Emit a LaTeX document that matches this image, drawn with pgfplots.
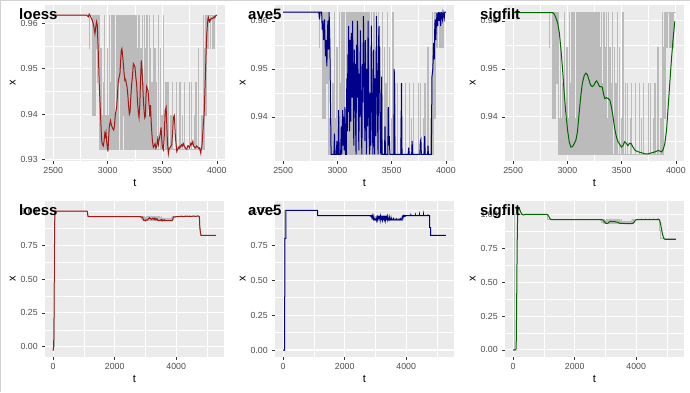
\documentclass[border=0pt]{standalone}
\usepackage{pgfplots}
\pgfplotsset{compat=1.18}
\usepackage{pgfplotstable}
\usepackage{fontspec}
\setmainfont{Liberation Sans}
\definecolor{ggbg}{HTML}{EBEBEB}
\definecolor{ggtick}{HTML}{333333}
\definecolor{ggtext}{HTML}{4D4D4D}
\definecolor{rawgray}{HTML}{BBBBBB}
\definecolor{cred}{HTML}{A01A1A}
\definecolor{cblue}{HTML}{00008B}
\definecolor{cgreen}{HTML}{006400}

% raw series (step data)
\pgfplotstableread{
t x
0 0
50 1.0
1115 0.9618
2500 0.9618
2832 0.9545
2835 0.9618
2862 0.9397
2866 0.9618
2870 0.9397
2874 0.9545
2878 0.9618
2882 0.9397
2886 0.9618
2890 0.9545
2895 0.9618
2900 0.9470
2904 0.9618
2910 0.9545
2915 0.9618
2920 0.9322
2924 0.9397
2928 0.9322
2934 0.9545
2938 0.9322
2945 0.9397
2949 0.9322
2956 0.9470
2960 0.9322
2968 0.9618
2971 0.9322
2980 0.9397
2984 0.9322
2992 0.9545
2996 0.9322
3004 0.9397
3008 0.9322
3015 0.9618
3018 0.9322
3026 0.9470
3030 0.9322
3036 0.9618
3040 0.9322
3046 0.9618
3050 0.9545
3054 0.9322
3060 0.9618
3064 0.9322
3070 0.9397
3074 0.9322
3080 0.9618
3085 0.9322
3090 0.9618
3095 0.9322
3100 0.9618
3104 0.9470
3108 0.9618
3112 0.9322
3116 0.9618
3120 0.9545
3124 0.9322
3128 0.9618
3132 0.9322
3136 0.9618
3140 0.9397
3144 0.9618
3148 0.9322
3152 0.9618
3156 0.9470
3160 0.9322
3164 0.9618
3168 0.9322
3172 0.9618
3176 0.9322
3180 0.9618
3184 0.9545
3188 0.9322
3192 0.9618
3196 0.9322
3200 0.9618
3204 0.9322
3208 0.9618
3212 0.9397
3216 0.9618
3220 0.9322
3224 0.9618
3228 0.9322
3232 0.9618
3236 0.9470
3240 0.9322
3244 0.9618
3248 0.9322
3252 0.9618
3256 0.9322
3260 0.9618
3264 0.9322
3268 0.9545
3272 0.9322
3276 0.9618
3280 0.9322
3290 0.9618
3293 0.9322
3302 0.9545
3306 0.9322
3312 0.9618
3315 0.9322
3322 0.9470
3326 0.9322
3334 0.9618
3337 0.9322
3345 0.9545
3349 0.9322
3356 0.9618
3359 0.9322
3366 0.9397
3370 0.9322
3378 0.9618
3381 0.9322
3390 0.9545
3394 0.9322
3402 0.9470
3405 0.9322
3415 0.9618
3418 0.9322
3430 0.9545
3433 0.9322
3445 0.9470
3448 0.9322
3460 0.9618
3463 0.9322
3478 0.9545
3481 0.9322
3495 0.9397
3498 0.9322
3510 0.9618
3513 0.9322
3530 0.9470
3533 0.9322
3550 0.9470
3553 0.9322
3575 0.9397
3578 0.9322
3590 0.9470
3593 0.9322
3625 0.9470
3628 0.9322
3660 0.9470
3663 0.9322
3680 0.9397
3683 0.9322
3700 0.9470
3703 0.9322
3745 0.9470
3748 0.9322
3765 0.9470
3768 0.9322
3790 0.9397
3793 0.9322
3805 0.9470
3808 0.9322
3830 0.9545
3833 0.9322
3860 0.9397
3863 0.9322
3875 0.9618
3878 0.9322
3885 0.9470
3888 0.9545
3890 0.9618
3895 0.9397
3899 0.9618
3905 0.9545
3909 0.9618
3918 0.9545
3922 0.9618
3940 0.9545
3944 0.9618
3960 0.9545
3964 0.9618
3975 0.9545
3979 0.9618
4000 0.9618
4150 0.9690
4155 0.9618
4300 0.9690
4305 0.9618
4430 0.9690
4435 0.9618
4560 0.9690
4565 0.9618
4700 0.9690
4705 0.9618
4762 0.8800
4795 0.8216
5290 0.8216
}\raw

% loess on 2500..4000
\pgfplotstableread{
t x
2500 0.9618
2806 0.9618
2822 0.9614
2830 0.9620
2840 0.9616
2861 0.9605
2874 0.9591
2883 0.9577
2890 0.9591
2898 0.9603
2904 0.9595
2913 0.9540
2922 0.9467
2935 0.9393
2944 0.9342
2952 0.9333
2959 0.9330
2966 0.9340
2973 0.9357
2978 0.9352
2984 0.9360
2990 0.9340
2996 0.9328
3002 0.9318
3008 0.9345
3014 0.9371
3020 0.9380
3026 0.9386
3033 0.9376
3040 0.9372
3047 0.9368
3055 0.9365
3062 0.9375
3070 0.9400
3082 0.9415
3090 0.9445
3097 0.9474
3105 0.9482
3112 0.9489
3118 0.9515
3124 0.9540
3130 0.9544
3136 0.9530
3143 0.9511
3150 0.9490
3157 0.9474
3164 0.9476
3170 0.9468
3177 0.9460
3185 0.9440
3191 0.9418
3198 0.9400
3205 0.9405
3212 0.9440
3220 0.9468
3226 0.9481
3235 0.9511
3242 0.9508
3250 0.9503
3258 0.9480
3265 0.9467
3272 0.9430
3280 0.9405
3287 0.9393
3294 0.9420
3300 0.9470
3308 0.9518
3314 0.9500
3320 0.9470
3327 0.9430
3333 0.9408
3340 0.9392
3345 0.9395
3351 0.9440
3357 0.9460
3363 0.9455
3370 0.9452
3378 0.9420
3385 0.9395
3392 0.9420
3398 0.9385
3404 0.9360
3410 0.9340
3418 0.9327
3426 0.9330
3434 0.9335
3442 0.9325
3450 0.9330
3458 0.9345
3465 0.9334
3472 0.9345
3480 0.9355
3489 0.9371
3495 0.9345
3501 0.9328
3510 0.9322
3518 0.9350
3526 0.9408
3535 0.9415
3541 0.9380
3547 0.9340
3556 0.9313
3564 0.9325
3572 0.9327
3580 0.9330
3587 0.9333
3595 0.9360
3602 0.9393
3611 0.9397
3618 0.9360
3624 0.9340
3633 0.9318
3640 0.9322
3648 0.9327
3655 0.9325
3663 0.9330
3670 0.9328
3679 0.9333
3686 0.9330
3694 0.9335
3701 0.9330
3709 0.9327
3717 0.9324
3725 0.9323
3732 0.9330
3740 0.9330
3748 0.9326
3755 0.9330
3762 0.9336
3770 0.9333
3780 0.9340
3786 0.9330
3792 0.9329
3800 0.9326
3807 0.9326
3815 0.9330
3823 0.9328
3832 0.9325
3841 0.9326
3847 0.9320
3853 0.9314
3858 0.9326
3862 0.9327
3867 0.9340
3871 0.9357
3877 0.9380
3884 0.9401
3893 0.9467
3902 0.9540
3908 0.9575
3914 0.9599
3919 0.9610
3924 0.9613
3929 0.9605
3933 0.9603
3939 0.9608
3945 0.9607
3950 0.9611
3954 0.9610
3963 0.9610
3970 0.9613
3976 0.9614
3982 0.9612
3988 0.9616
3995 0.9617
4000 0.9618
}\loessTop

% ave5 on 2500..4000
\pgfplotstableread{
t x
2500 0.9618
2829 0.9618
2835 0.9603
2841 0.9618
2855 0.9618
2860 0.9582
2866 0.9600
2872 0.9560
2878 0.9590
2881 0.9603
2886 0.9560
2890 0.9526
2896 0.9560
2903 0.9505
2908 0.9560
2912 0.9600
2918 0.9540
2924 0.9618
2930 0.9560
2936 0.9440
2942 0.9322
2968 0.9322
2973 0.9365
2977 0.9322
2990 0.9322
2996 0.9350
3000 0.9322
3008 0.9322
3012 0.9414
3016 0.9322
3030 0.9322
3036 0.9380
3040 0.9322
3049 0.9414
3053 0.9340
3058 0.9400
3062 0.9330
3070 0.9420
3075 0.9322
3082 0.9322
3087 0.9480
3091 0.9370
3097 0.9530
3101 0.9410
3104 0.9589
3108 0.9450
3112 0.9370
3116 0.9560
3120 0.9460
3124 0.9390
3128 0.9575
3133 0.9500
3137 0.9440
3140 0.9600
3145 0.9480
3149 0.9380
3152 0.9340
3156 0.9540
3160 0.9450
3164 0.9510
3168 0.9380
3172 0.9322
3177 0.9550
3181 0.9440
3185 0.9600
3190 0.9500
3194 0.9400
3198 0.9330
3203 0.9490
3207 0.9400
3212 0.9580
3217 0.9470
3222 0.9360
3226 0.9322
3231 0.9510
3235 0.9430
3240 0.9610
3245 0.9520
3250 0.9410
3254 0.9350
3258 0.9560
3263 0.9450
3268 0.9322
3273 0.9500
3278 0.9380
3283 0.9600
3288 0.9480
3293 0.9360
3298 0.9322
3303 0.9450
3308 0.9340
3313 0.9590
3318 0.9470
3323 0.9380
3328 0.9322
3333 0.9540
3338 0.9420
3343 0.9322
3349 0.9480
3354 0.9360
3360 0.9610
3365 0.9500
3370 0.9400
3375 0.9322
3380 0.9560
3384 0.9589
3388 0.9500
3392 0.9420
3396 0.9360
3400 0.9322
3408 0.9484
3412 0.9322
3434 0.9322
3439 0.9380
3443 0.9322
3465 0.9322
3469 0.9420
3474 0.9340
3479 0.9360
3484 0.9322
3520 0.9322
3524 0.9500
3530 0.9322
3585 0.9322
3591 0.9470
3596 0.9322
3652 0.9322
3658 0.9336
3662 0.9322
3685 0.9322
3689 0.9350
3693 0.9322
3760 0.9322
3765 0.9350
3770 0.9353
3774 0.9322
3800 0.9322
3805 0.9360
3809 0.9322
3832 0.9322
3835 0.9340
3839 0.9322
3866 0.9322
3872 0.9484
3880 0.9500
3887 0.9554
3893 0.9520
3898 0.9590
3902 0.9603
3907 0.9560
3912 0.9590
3918 0.9616
3925 0.9589
3931 0.9618
3938 0.9600
3944 0.9618
3952 0.9589
3958 0.9618
3968 0.9603
3974 0.9618
3985 0.9605
3990 0.9618
4000 0.9618
}\aveTop

% sigfilt on 2500..4000
\pgfplotstableread{
t x
2500 0.9617
2865 0.9617
2880 0.9614
2895 0.9606
2910 0.9596
2926 0.9575
2941 0.9540
2956 0.9498
2971 0.9449
2986 0.9407
3002 0.9372
3017 0.9348
3032 0.9337
3047 0.9338
3062 0.9344
3078 0.9351
3093 0.9369
3108 0.9407
3123 0.9442
3138 0.9470
3154 0.9485
3169 0.9491
3184 0.9488
3199 0.9477
3214 0.9466
3230 0.9463
3245 0.9466
3260 0.9473
3270 0.9475
3284 0.9469
3296 0.9463
3309 0.9463
3321 0.9462
3336 0.9445
3345 0.9438
3360 0.9440
3376 0.9438
3391 0.9435
3406 0.9421
3421 0.9400
3436 0.9376
3452 0.9358
3467 0.9348
3482 0.9343
3497 0.9337
3512 0.9340
3528 0.9348
3543 0.9345
3558 0.9340
3573 0.9345
3588 0.9344
3604 0.9337
3625 0.9330
3655 0.9327
3686 0.9325
3716 0.9323
3746 0.9323
3777 0.9325
3807 0.9327
3838 0.9330
3868 0.9327
3883 0.9332
3898 0.9344
3914 0.9372
3929 0.9421
3944 0.9470
3959 0.9519
3974 0.9561
3990 0.9599
}\sigTop

% full-range pieces (0..2500 and 4000..end)
\pgfplotstableread{
t x
0 -0.030
10 -0.010
18 0.030
25 0.130
35 0.450
45 0.800
55 0.990
70 1.004
1100 1.004
1112 0.998
1125 0.975
1140 0.963
1160 0.9618
2500 0.9618
}\loessA
\pgfplotstableread{
t x
4000 0.9618
4050 0.9625
4100 0.9630
4150 0.9650
4200 0.9630
4300 0.9640
4350 0.9660
4400 0.9640
4450 0.9650
4500 0.9640
4560 0.9670
4620 0.9645
4680 0.9660
4740 0.9650
4755 0.9600
4765 0.9000
4775 0.8700
4790 0.8400
4810 0.8240
5290 0.8240
}\loessB
\pgfplotstableread{
t x
0 0
50 0
51 0.2
52 0.4
53 0.6
55 0.8
85 0.8
88 1.0
1115 1.0
1117 0.9924
1119 0.9848
1121 0.9772
1123 0.9694
1125 0.9618
2500 0.9618
}\aveA
\pgfplotstableread{
t x
4000 0.9618
4150 0.9618
4152 0.9650
4156 0.9618
4300 0.9618
4303 0.9660
4307 0.9618
4430 0.9618
4433 0.9680
4437 0.9618
4560 0.9618
4563 0.9690
4567 0.9618
4700 0.9618
4703 0.9700
4707 0.9618
4760 0.9618
4763 0.8760
4795 0.8760
4798 0.8216
5290 0.8216
}\aveB
\pgfplotstableread{
t x
0 0
90 0
100 0.05
110 0.25
120 0.50
130 0.77
142 0.95
155 1.03
175 1.05
200 1.045
240 1.02
280 1.003
330 0.996
400 1.0
1100 1.0
1130 0.996
1160 0.985
1190 0.972
1220 0.964
1260 0.9618
2500 0.9617
}\sigA
\pgfplotstableread{
t x
3990 0.9599
4000 0.9605
4020 0.9615
4050 0.9620
4740 0.9620
4760 0.958
4790 0.935
4820 0.895
4850 0.860
4880 0.835
4910 0.820
4940 0.816
5290 0.816
}\sigB

\pgfplotsset{gg/.style={
  scale only axis,
  height=156pt,
  axis background/.style={fill=ggbg},
  axis line style={draw=none},
  grid=both,
  major grid style={white, line width=1.07pt},
  minor grid style={white, line width=0.53pt},
  tick align=outside,
  tick pos=left,
  major tick length=2.75pt,
  minor tick length=0pt,
  every tick/.style={ggtick, line width=0.53pt},
  tick label style={font=\fontsize{8.8}{10}\selectfont, text=ggtext},
  yticklabel style={xshift=-1pt},
  label style={font=\fontsize{11}{13}\selectfont},
  xlabel={t}, ylabel={x},
  xlabel style={at={(axis description cs:0.5,-0.141)}, anchor=center},
  ylabel style={at={(axis description cs:-0.18,0.5)}, anchor=center},
  anchor=north west,
},
ggtop/.style={gg,
  xmin=2425, xmax=4075,
  xtick={2500,3000,3500,4000}, xticklabels={2500,3000,3500,4000},
  minor xtick={2750,3250,3750},
  minor ytick={0.935,0.945,0.955},
},
ggbot/.style={gg,
  xmin=-265, xmax=5555,
  xtick={0,2000,4000}, xticklabels={0,2000,4000},
  minor xtick={1000,3000,5000},
  ytick={0,0.25,0.5,0.75,1}, yticklabels={0.00,0.25,0.50,0.75,1.00},
  minor ytick={0.125,0.375,0.625,0.875},
},
rawline/.style={const plot, rawgray, line width=0.5pt},
dline/.style={line width=1.0pt},
}

\begin{document}
\begin{tikzpicture}
\useasboundingbox (0,0) rectangle (690pt,-392pt);
\fill[white] (0,0) rectangle (690pt,-392pt);
\draw[color=black!18, line width=0.8pt] (0.4pt,0) -- (0.4pt,-392pt);
\draw[color=black!18, line width=0.8pt] (0,-0.4pt) -- (690pt,-0.4pt);

% ---- top row ----
\begin{axis}[ggtop, at={(45pt,-5pt)}, width=180pt,
  ymin=0.9297, ymax=0.9640,
  ytick={0.93,0.94,0.95,0.96}, yticklabels={0.93,0.94,0.95,0.96}]
\addplot[rawline, restrict x to domain=2500:4000] table[x=t,y=x] {\raw};
\addplot[cred, dline] table[x=t,y=x] {\loessTop};
\end{axis}

\begin{axis}[ggtop, at={(275pt,-5pt)}, width=179pt,
  ymin=0.9308, ymax=0.9633,
  ytick={0.94,0.95,0.96}, yticklabels={0.94,0.95,0.96}]
\addplot[rawline, restrict x to domain=2500:4000] table[x=t,y=x] {\raw};
\addplot[cblue, dline] table[x=t,y=x] {\aveTop};
\end{axis}

\begin{axis}[ggtop, at={(505pt,-5pt)}, width=179pt,
  ymin=0.9308, ymax=0.9633,
  ytick={0.94,0.95,0.96}, yticklabels={0.94,0.95,0.96}]
\addplot[rawline, restrict x to domain=2500:4000] table[x=t,y=x] {\raw};
\addplot[cgreen, dline] table[x=t,y=x] {\sigTop};
\end{axis}

% ---- bottom row ----
\begin{axis}[ggbot, at={(45pt,-201pt)}, width=179pt,
  ymin=-0.076, ymax=1.078]
\addplot[rawline] table[x=t,y=x] {\raw};
\addplot[cred, dline] table[x=t,y=x] {\loessA};
\addplot[cred, dline] table[x=t,y=x] {\loessTop};
\addplot[cred, dline] table[x=t,y=x] {\loessB};
\end{axis}

\begin{axis}[ggbot, at={(275pt,-201pt)}, width=179pt,
  ymin=-0.050, ymax=1.067]
\addplot[rawline] table[x=t,y=x] {\raw};
\addplot[cblue, dline] table[x=t,y=x] {\aveA};
\addplot[cblue, dline] table[x=t,y=x] {\aveTop};
\addplot[cblue, dline] table[x=t,y=x] {\aveB};
\end{axis}

\begin{axis}[ggbot, at={(505pt,-201pt)}, width=179pt,
  ymin=-0.052, ymax=1.099]
\addplot[rawline] table[x=t,y=x] {\raw};
\addplot[cgreen, dline] table[x=t,y=x] {\sigA};
\addplot[cgreen, dline] table[x=t,y=x] {\sigTop};
\addplot[cgreen, dline] table[x=t,y=x] {\sigB};
\end{axis}

% ---- panel labels ----
\begin{scope}[every node/.style={anchor=base west, inner sep=0pt, font=\fontsize{15}{17}\selectfont\bfseries}]
\node at (19pt,-19.5pt) {loess};
\node at (248pt,-19.5pt) {ave5};
\node at (480pt,-19.5pt) {sigfilt};
\node at (19pt,-215.5pt) {loess};
\node at (248pt,-215.5pt) {ave5};
\node at (480pt,-215.5pt) {sigfilt};
\end{scope}
\end{tikzpicture}
\end{document}
